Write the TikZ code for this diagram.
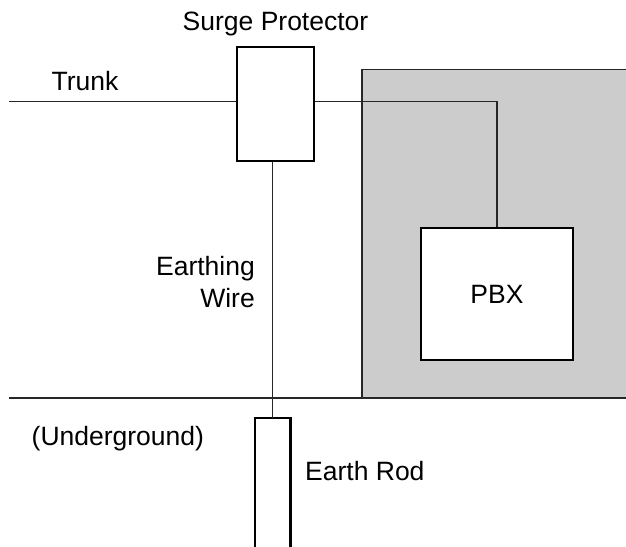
\documentclass[tikz,border=0pt]{standalone}
\usepackage{fontspec}
\setmainfont{Liberation Sans}
\begin{document}
\begin{tikzpicture}[x=1bp,y=-1bp,
  thin line/.style={line width=1.1bp,draw=black!85},
  boxnode/.style={draw=black,line width=2.2bp,fill=white,inner sep=0pt,rectangle},
  lbl/.style={font=\fontsize{26.5bp}{32bp}\selectfont,inner sep=0pt}]
\useasboundingbox (0,0) rectangle (626,547);
\clip (0,0) rectangle (626,547);
% grey building area
\fill[black!20] (362,69.5) rectangle (640,398);
\draw[thin line] (362,398) -- (362,69.5) -- (640,69.5);
% boxes
\node[boxnode,minimum width=77bp,minimum height=114bp] (surge) at (275.5,103.7) {};
\node[boxnode,minimum width=152bp,minimum height=132bp] (pbx) at (497,294) {};
\node[lbl] at (pbx.center) {PBX};
% earth rod
\coordinate (rodtl) at (255,418);
\coordinate (rodtr) at (290.5,418);
\coordinate (rodtop) at (272.8,418);
\draw[line width=2.2bp] (rodtl |- 0,560) -- (rodtl) -- (rodtr) -- (rodtr |- 0,560);
% wires
\coordinate (trunk) at (9,101.5);
\coordinate (gl) at (9,398);
\coordinate (gr) at (640,398);
\draw[thin line] (trunk) -- (trunk -| surge.west);
\draw[thin line] (surge.east |- trunk) -- (pbx.north |- trunk) -- (pbx.north);
\draw[thin line] (rodtop |- surge.south) -- (rodtop);
\draw[thin line] (gl) -- (gr);
% labels
\node[lbl,anchor=base] (lsp) at (275.5,31) {Surge Protector};
\node[lbl,anchor=base west] (ltr) at (51.5,91) {Trunk};
\node[lbl,anchor=base east] (lew1) at (255,275) {Earthing};
\node[lbl,anchor=base east] (lew2) at (255,307) {Wire};
\node[lbl,anchor=base west] (lug) at (31.5,445) {(Underground)};
\node[lbl,anchor=base west] (ler) at (305,480) {Earth Rod};
\end{tikzpicture}
\end{document}
